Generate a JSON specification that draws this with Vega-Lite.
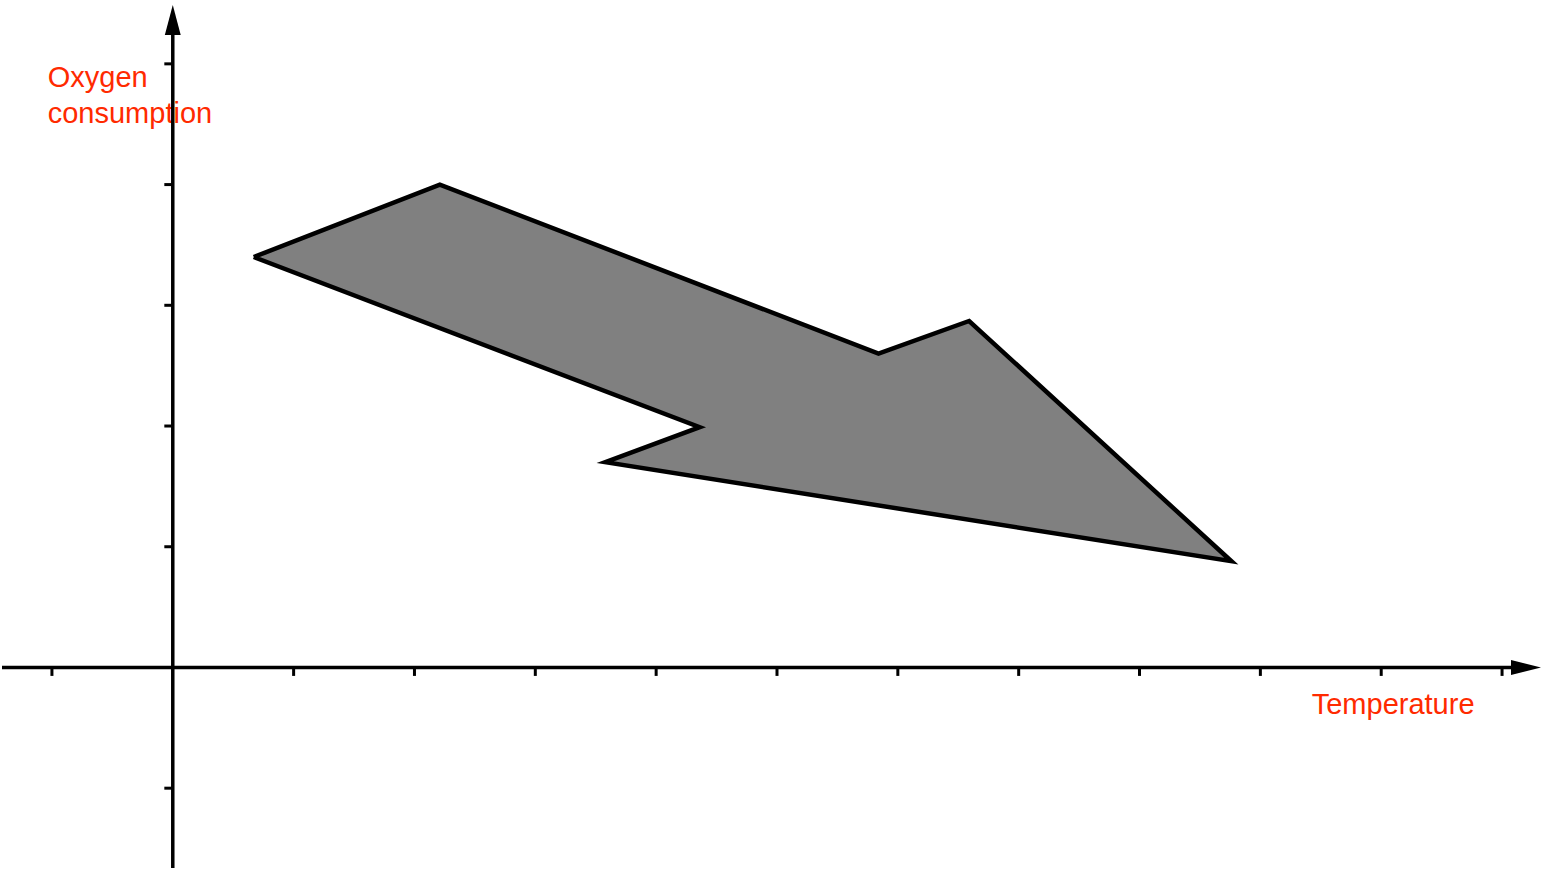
{
  "$schema": "https://vega.github.io/schema/vega-lite/v6.json",
  "width": 1546,
  "height": 870,
  "padding": 0,
  "autosize": {"type": "fit", "contains": "padding"},
  "background": "white",
  "view": {"stroke": null},
  "datasets": {
    "shape": [
      {"step": 0, "x": 0.67, "y": 3.40},
      {"step": 1, "x": 2.21, "y": 4.00},
      {"step": 2, "x": 5.84, "y": 2.60},
      {"step": 3, "x": 6.59, "y": 2.87},
      {"step": 4, "x": 8.76, "y": 0.88},
      {"step": 5, "x": 3.58, "y": 1.70},
      {"step": 6, "x": 4.36, "y": 1.99},
      {"step": 7, "x": 0.67, "y": 3.40}
    ],
    "xticks": [
      {"v": -1}, {"v": 1}, {"v": 2}, {"v": 3}, {"v": 4}, {"v": 5},
      {"v": 6}, {"v": 7}, {"v": 8}, {"v": 9}, {"v": 10}, {"v": 11}
    ],
    "yticks": [
      {"v": -1}, {"v": 1}, {"v": 2}, {"v": 3}, {"v": 4}, {"v": 5}
    ],
    "labels": [
      {"label": "Oxygen", "x": -1.035, "y": 4.81},
      {"label": "consumption", "x": -1.035, "y": 4.512},
      {"label": "Temperature", "x": 9.425, "y": -0.385}
    ]
  },
  "encoding": {
    "x": {"type": "quantitative", "axis": null, "scale": {"domain": [-1.41322, 11.36364], "nice": false, "zero": false}},
    "y": {"type": "quantitative", "axis": null, "scale": {"domain": [-1.66116, 5.52893], "nice": false, "zero": false}}
  },
  "layer": [
    {
      "data": {"name": "shape"},
      "mark": {"type": "line", "fill": "#808080", "stroke": "black", "strokeWidth": 4.5, "strokeJoin": "miter"},
      "encoding": {
        "x": {"field": "x", "type": "quantitative"},
        "y": {"field": "y", "type": "quantitative"},
        "order": {"field": "step", "type": "quantitative"}
      }
    },
    {
      "data": {"name": "labels"},
      "mark": {"type": "text", "align": "left", "baseline": "alphabetic", "font": "Liberation Sans", "fontSize": 29, "color": "#ff2a00"},
      "encoding": {
        "x": {"field": "x", "type": "quantitative"},
        "y": {"field": "y", "type": "quantitative"},
        "text": {"field": "label", "type": "nominal"}
      }
    },
    {
      "data": {"values": [{"a": -1.41322, "b": 11.2}]},
      "mark": {"type": "rule", "color": "black", "strokeWidth": 3.5},
      "encoding": {
        "x": {"field": "a", "type": "quantitative"},
        "x2": {"field": "b"},
        "y": {"datum": 0}
      }
    },
    {
      "data": {"values": [{"a": -1.66116, "b": 5.3}]},
      "mark": {"type": "rule", "color": "black", "strokeWidth": 3.5},
      "encoding": {
        "y": {"field": "a", "type": "quantitative"},
        "y2": {"field": "b"},
        "x": {"datum": 0}
      }
    },
    {
      "data": {"name": "xticks"},
      "mark": {"type": "rule", "color": "black", "strokeWidth": 3},
      "encoding": {
        "x": {"field": "v", "type": "quantitative"},
        "y": {"datum": 0},
        "y2": {"datum": -0.07}
      }
    },
    {
      "data": {"name": "yticks"},
      "mark": {"type": "rule", "color": "black", "strokeWidth": 3},
      "encoding": {
        "y": {"field": "v", "type": "quantitative"},
        "x": {"datum": -0.07},
        "x2": {"datum": 0}
      }
    },
    {
      "data": {"values": [{"x": 11.198, "y": 0}]},
      "mark": {"type": "point", "filled": true, "color": "black", "opacity": 1, "size": 900, "shape": "M -1 -0.5 L 1 0 L -1 0.5 Z"},
      "encoding": {
        "x": {"field": "x", "type": "quantitative"},
        "y": {"field": "y", "type": "quantitative"}
      }
    },
    {
      "data": {"values": [{"x": 0, "y": 5.3636}]},
      "mark": {"type": "point", "filled": true, "color": "black", "opacity": 1, "size": 900, "shape": "M -0.53 1 L 0 -1 L 0.53 1 Z"},
      "encoding": {
        "x": {"field": "x", "type": "quantitative"},
        "y": {"field": "y", "type": "quantitative"}
      }
    }
  ]
}
